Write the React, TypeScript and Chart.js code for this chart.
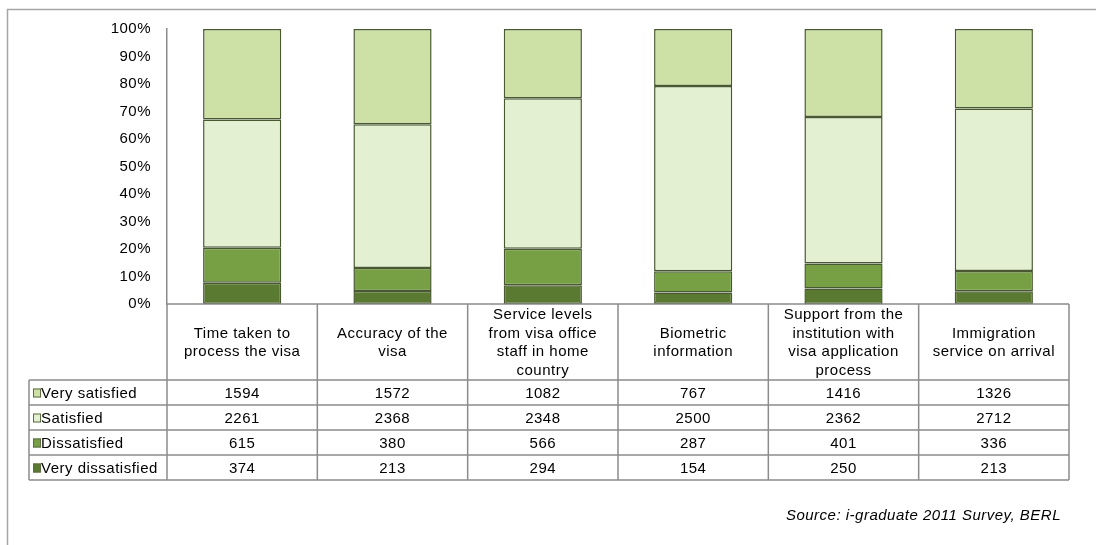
import React, { useEffect, useRef } from "react";
import { Chart, registerables } from "chart.js";

Chart.register(...registerables);

const categories: string[][] = [
  ["Time taken to", "process the visa"],
  ["Accuracy of the", "visa"],
  ["Service levels", "from visa office", "staff in home", "country"],
  ["Biometric", "information"],
  ["Support from the", "institution with", "visa application", "process"],
  ["Immigration", "service on arrival"],
];

const verySatisfied = [1594, 1572, 1082, 767, 1416, 1326];
const satisfied = [2261, 2368, 2348, 2500, 2362, 2712];
const dissatisfied = [615, 380, 566, 287, 401, 336];
const veryDissatisfied = [374, 213, 294, 154, 250, 213];

const seriesNames = ["Very satisfied", "Satisfied", "Dissatisfied", "Very dissatisfied"];
const seriesColors = ["#cde0a5", "#e4f0d2", "#76a043", "#5a7a31"];
const yTickLabels = ["0%", "10%", "20%", "30%", "40%", "50%", "60%", "70%", "80%", "90%", "100%"];
const sourceNote = "Source: i-graduate 2011 Survey, BERL";

const FONT = '"Liberation Sans", Arial, sans-serif';
const SPACING = "0.5px";

const totals = categories.map(
  (_, i) => verySatisfied[i] + satisfied[i] + dissatisfied[i] + veryDissatisfied[i]
);
const toPct = (arr: number[]) => arr.map((v, i) => (v / totals[i]) * 100);

// table rows (top to bottom)
const tableRows = [verySatisfied, satisfied, dissatisfied, veryDissatisfied];

const tablePlugin = {
  id: "dataTable",
  beforeDraw(chart: any) {
    const ctx = chart.ctx;
    ctx.letterSpacing = SPACING;
    ctx.save();
    ctx.strokeStyle = "#a6a6a6";
    ctx.lineWidth = 1.5;
    ctx.beginPath();
    ctx.moveTo(7.5, 545);
    ctx.lineTo(7.5, 9.5);
    ctx.lineTo(1096, 9.5);
    ctx.stroke();
    ctx.restore();
  },
  afterDraw(chart: any) {
    const ctx = chart.ctx;
    const area = chart.chartArea;
    const left = area.left;
    const right = area.right;
    const top = area.bottom;
    const n = categories.length;
    const colW = (right - left) / n;
    const headerBottom = 380;
    const rowH = 25;
    const legendLeft = 29;
    const tableBottom = headerBottom + rowH * tableRows.length;

    ctx.save();
    ctx.letterSpacing = SPACING;
    ctx.strokeStyle = "#8c8c8c";
    ctx.lineWidth = 1.5;
    ctx.beginPath();
    ctx.moveTo(left, top);
    ctx.lineTo(right, top);
    for (let r = 0; r <= tableRows.length; r++) {
      const y = headerBottom + r * rowH;
      ctx.moveTo(legendLeft, y);
      ctx.lineTo(right, y);
    }
    ctx.moveTo(legendLeft, headerBottom);
    ctx.lineTo(legendLeft, tableBottom);
    for (let c = 0; c <= n; c++) {
      const x = left + c * colW;
      ctx.moveTo(x, top);
      ctx.lineTo(x, tableBottom);
    }
    ctx.stroke();

    ctx.fillStyle = "#000";
    ctx.font = `15px ${FONT}`;
    ctx.textAlign = "center";
    ctx.textBaseline = "middle";

    const lh = 18.5;
    const headerMid = (top + headerBottom) / 2 + 1;
    const labels = chart.data.labels as string[][];
    labels.forEach((lines, c) => {
      const cx = left + (c + 0.5) * colW;
      const startY = headerMid - ((lines.length - 1) * lh) / 2;
      lines.forEach((ln, k) => ctx.fillText(ln, cx, startY + k * lh));
    });

    tableRows.forEach((row, r) => {
      const cy = headerBottom + r * rowH + rowH / 2 + 1;
      row.forEach((v, c) => {
        const cx = left + (c + 0.5) * colW;
        ctx.fillText(String(v), cx, cy);
      });
      const kx = 33;
      const ky = cy - 5;
      ctx.fillStyle = seriesColors[r];
      ctx.fillRect(kx, ky, 8, 9);
      ctx.strokeStyle = "#5d6b45";
      ctx.lineWidth = 1;
      ctx.strokeRect(kx + 0.5, ky + 0.5, 7, 8);
      ctx.fillStyle = "#000";
      ctx.textAlign = "left";
      ctx.fillText(seriesNames[r], 41, cy);
      ctx.textAlign = "center";
    });

    ctx.font = `italic 15px ${FONT}`;
    ctx.textAlign = "right";
    ctx.fillText(sourceNote, 1061, 516);
    ctx.restore();
  },
};

export default function App() {
  const canvasRef = useRef<HTMLCanvasElement | null>(null);

  useEffect(() => {
    if (!canvasRef.current) return;
    const stackOrder = [3, 2, 1, 0]; // bottom to top
    const seriesData = [verySatisfied, satisfied, dissatisfied, veryDissatisfied];
    const chart = new Chart(canvasRef.current, {
      type: "bar",
      data: {
        labels: categories,
        datasets: stackOrder.map((s) => ({
          label: seriesNames[s],
          data: toPct(seriesData[s]),
          backgroundColor: seriesColors[s],
          borderColor: "#485830",
          borderWidth: 1.5,
          borderSkipped: false,
          barPercentage: 0.52,
          categoryPercentage: 1,
        })),
      },
      options: {
        responsive: false,
        animation: false,
        devicePixelRatio: 1,
        layout: { padding: { left: 0, top: 29, right: 27, bottom: 241 } },
        plugins: {
          legend: { display: false },
          tooltip: { enabled: false },
          title: { display: false },
        },
        scales: {
          x: { stacked: true, display: false },
          y: {
            stacked: true,
            min: 0,
            max: 100,
            grid: { display: false },
            border: { display: true, color: "#8c8c8c", width: 1.5 },
            ticks: {
              stepSize: 10,
              padding: 8,
              color: "#000",
              font: { family: FONT, size: 15 },
              callback: (v: any) => yTickLabels[Math.round(Number(v) / 10)],
            },
            afterFit: (scale: any) => {
              scale.width = 167;
            },
          },
        },
      },
      plugins: [tablePlugin],
    } as any);
    return () => chart.destroy();
  }, []);

  return (
    <div style={{ position: "absolute", left: 0, top: 0, width: 1096, height: 545, background: "#fff" }}>
      <canvas ref={canvasRef} width={1096} height={545} />
    </div>
  );
}
